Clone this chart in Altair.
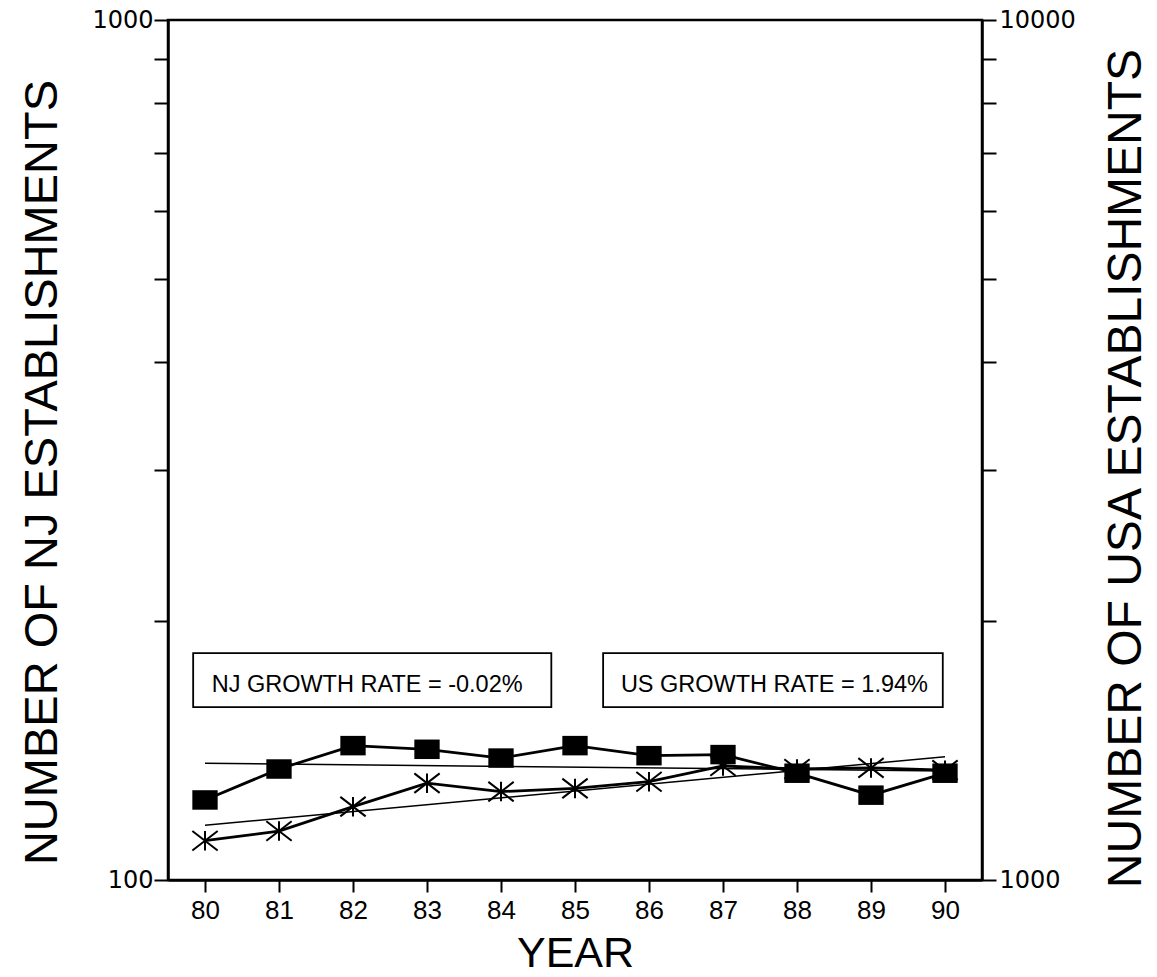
import altair as alt
import pandas as pd

# ---- data ----
years = [80, 81, 82, 83, 84, 85, 86, 87, 88, 89, 90]
nj_values = [123.9, 134.6, 143.3, 141.9, 138.6, 143.3, 139.5, 139.9, 133.1, 125.5, 133.1]
us_values = [1111, 1140, 1217, 1296, 1267, 1278, 1301, 1357, 1346, 1350, 1342]
trend_years = [80, 90]
nj_trend = [136.7, 133.9]
us_trend = [1158, 1391]
x_ticks = [80, 81, 82, 83, 84, 85, 86, 87, 88, 89, 90]
left_ticks = [100, 200, 300, 400, 500, 600, 700, 800, 900, 1000]
right_ticks = [1000, 2000, 3000, 4000, 5000, 6000, 7000, 8000, 9000, 10000]
labels = ["NJ GROWTH RATE = -0.02%", "US GROWTH RATE = 1.94%"]

# annotation boxes (data units: year / NJ axis value)
box_x1 = [79.84, 85.38]
box_x2 = [84.68, 89.97]
box_y1 = [158.9, 158.9]
box_y2 = [183.6, 183.6]
text_x = [80.09, 85.62]
text_y = [168.5, 168.5]

nj_df = pd.DataFrame({"year": years, "v": nj_values})
us_df = pd.DataFrame({"year": years, "u": us_values})
njt_df = pd.DataFrame({"year": trend_years, "v": nj_trend})
ust_df = pd.DataFrame({"year": trend_years, "u": us_trend})
box_df = pd.DataFrame({"year": box_x1, "year2": box_x2, "v": box_y1, "v2": box_y2})
txt_df = pd.DataFrame({"year": text_x, "v": text_y, "label": labels})

X = alt.X(
    "year:Q",
    scale=alt.Scale(domain=[79.5, 90.5], nice=False, zero=False),
    axis=alt.Axis(
        values=x_ticks, format="d", title="YEAR", grid=False,
        tickSize=12, tickWidth=2, labelPadding=5,
        labelFont="Liberation Sans", labelFontSize=26, labelFlush=False,
        titleFont="Liberation Sans", titleFontSize=43, titleFontWeight="normal",
        titleBaseline="alphabetic", titleY=86,
    ),
)

YL = alt.Y(
    "v:Q",
    scale=alt.Scale(type="log", domain=[100, 1000], nice=False),
    axis=alt.Axis(
        orient="left", values=left_ticks, format="d", grid=False,
        labelExpr="datum.value == 100 || datum.value == 1000 ? datum.label : ''",
        tickSize=14, tickWidth=2, labelPadding=1,
        labelFont="DejaVu Sans", labelFontSize=24, labelOverlap=False,
        title="NUMBER OF NJ ESTABLISHMENTS",
        titleFont="Liberation Sans", titleFontSize=47, titleFontWeight="normal",
        titleAngle=270, titleBaseline="alphabetic", titleAlign="center",
        titleX=-112, titleY=452,
    ),
)

YR = alt.Y(
    "u:Q",
    scale=alt.Scale(type="log", domain=[1000, 10000], nice=False),
    axis=alt.Axis(
        orient="right", values=right_ticks, format="d", grid=False,
        labelExpr="datum.value == 1000 || datum.value == 10000 ? datum.label : ''",
        tickSize=14, tickWidth=2, labelPadding=3,
        labelFont="DejaVu Sans", labelFontSize=24, labelOverlap=False,
        title="NUMBER OF USA ESTABLISHMENTS",
        titleFont="Liberation Sans", titleFontSize=48, titleFontWeight="normal",
        titleAngle=270, titleBaseline="alphabetic", titleAlign="center",
        titleX=158, titleY=448,
    ),
)

square_path = "M-1.3,-1L1.3,-1L1.3,1L-1.3,1Z"
star_path = "M0,-1L0,1M-1.3,-1L1.3,1M-1.3,1L1.3,-1"

nj_trend_line = alt.Chart(njt_df).mark_line(color="black", strokeWidth=1.5).encode(x=X, y=YL)
nj_line = alt.Chart(nj_df).mark_line(color="black", strokeWidth=2.8).encode(x=X, y=YL)
nj_pts = alt.Chart(nj_df).mark_point(
    shape=square_path, size=380, filled=True, color="black", opacity=1
).encode(x=X, y=YL)
boxes = alt.Chart(box_df).mark_rect(
    fill="white", stroke="black", strokeWidth=1.8
).encode(x=X, x2="year2:Q", y=YL, y2="v2:Q")
texts = alt.Chart(txt_df).mark_text(
    align="left", baseline="middle", font="Liberation Sans", fontSize=23.5, color="black"
).encode(x=X, y=YL, text="label:N")

left = alt.layer(nj_trend_line, boxes, texts, nj_line, nj_pts)

us_trend_line = alt.Chart(ust_df).mark_line(color="black", strokeWidth=1.5).encode(x=X, y=YR)
us_line = alt.Chart(us_df).mark_line(color="black", strokeWidth=2.8).encode(x=X, y=YR)
us_pts = alt.Chart(us_df).mark_point(
    shape=star_path, size=380, filled=False, color="black", strokeWidth=2, opacity=1
).encode(x=X, y=YR)

right = alt.layer(us_trend_line, us_line, us_pts)

chart = (
    alt.layer(left, right)
    .resolve_scale(y="independent")
    .properties(
        width=814, height=860,
        padding={"left": 168, "top": 20, "right": 175, "bottom": 97},
        autosize=alt.AutoSizeParams(type="none"),
        background="white",
    )
    .configure_view(stroke="black", strokeWidth=2.5)
    .configure_axis(
        domainColor="black", domainWidth=2.5, tickColor="black",
        labelColor="black", titleColor="black",
    )
)

chart.save("out.html", embed_options={"renderer": "svg", "actions": False})
